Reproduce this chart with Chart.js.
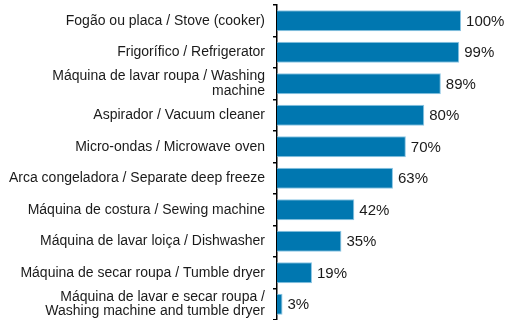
<!DOCTYPE html>
<html lang="pt">
<head>
    <meta charset="UTF-8">
    <title>Equipamentos domésticos / Household appliances</title>
    <script src="https://cdn.jsdelivr.net/npm/chart.js"></script>
    <style>
        html, body { margin: 0; padding: 0; background: #fff; }
        #wrap { position: relative; width: 508px; height: 320px; }
    </style>
</head>
<body>
    <div id="wrap">
        <canvas id="appliancesChart"></canvas>
    </div>
    <script>
        // Etiquetas das categorias (multi-linha quando necessário)
        const categorias = [
            'Fogão ou placa / Stove (cooker)',
            'Frigorífico / Refrigerator',
            ['Máquina de lavar roupa / Washing', 'machine'],
            'Aspirador / Vacuum cleaner',
            'Micro-ondas / Microwave oven',
            'Arca congeladora / Separate deep freeze',
            'Máquina de costura / Sewing machine',
            'Máquina de lavar loiça / Dishwasher',
            'Máquina de secar roupa / Tumble dryer',
            ['Máquina de lavar e secar roupa /', 'Washing machine and tumble dryer']
        ];
        const percentagens = [100, 99, 89, 80, 70, 63, 42, 35, 19, 3];

        // Escreve o valor à direita de cada barra
        const etiquetasValor = {
            id: 'etiquetasValor',
            afterDatasetsDraw(chart) {
                const ctx = chart.ctx;
                const meta = chart.getDatasetMeta(0);
                ctx.save();
                ctx.font = '15px "Liberation Sans", Arial, sans-serif';
                ctx.fillStyle = '#1a1a1a';
                ctx.textAlign = 'left';
                ctx.textBaseline = 'middle';
                meta.data.forEach((bar, i) => {
                    ctx.fillText(percentagens[i] + '%', bar.x + 5, bar.y + 1);
                });
                ctx.restore();
            }
        };

        new Chart(document.getElementById('appliancesChart'), {
            type: 'bar',
            data: {
                labels: categorias,
                datasets: [{
                    data: percentagens,
                    backgroundColor: '#0077b0',
                    borderColor: '#8cc6e4',
                    borderWidth: 1,
                    categoryPercentage: 0.67,
                    barPercentage: 1.0
                }]
            },
            options: {
                indexAxis: 'y',
                responsive: true,
                maintainAspectRatio: false,
                animation: false,
                layout: { padding: { top: 5, right: 0, bottom: 0, left: 0 } },
                plugins: {
                    legend: { display: false },
                    tooltip: { enabled: false }
                },
                scales: {
                    x: {
                        display: false,
                        min: 0,
                        max: 125.5
                    },
                    y: {
                        afterFit(scale) {
                            scale.width = 277;
                            scale.paddingTop = 0;
                            scale.paddingBottom = 0;
                        },
                        border: { display: true, color: '#000', width: 1.5 },
                        grid: {
                            offset: true,
                            drawOnChartArea: false,
                            color: '#000',
                            lineWidth: 1.5,
                            tickLength: 4
                        },
                        ticks: {
                            autoSkip: false,
                            color: '#1a1a1a',
                            padding: 8,
                            font: { family: '"Liberation Sans", Arial, sans-serif', size: 14, lineHeight: 1.03 }
                        }
                    }
                }
            },
            plugins: [etiquetasValor]
        });
    </script>
</body>
</html>
